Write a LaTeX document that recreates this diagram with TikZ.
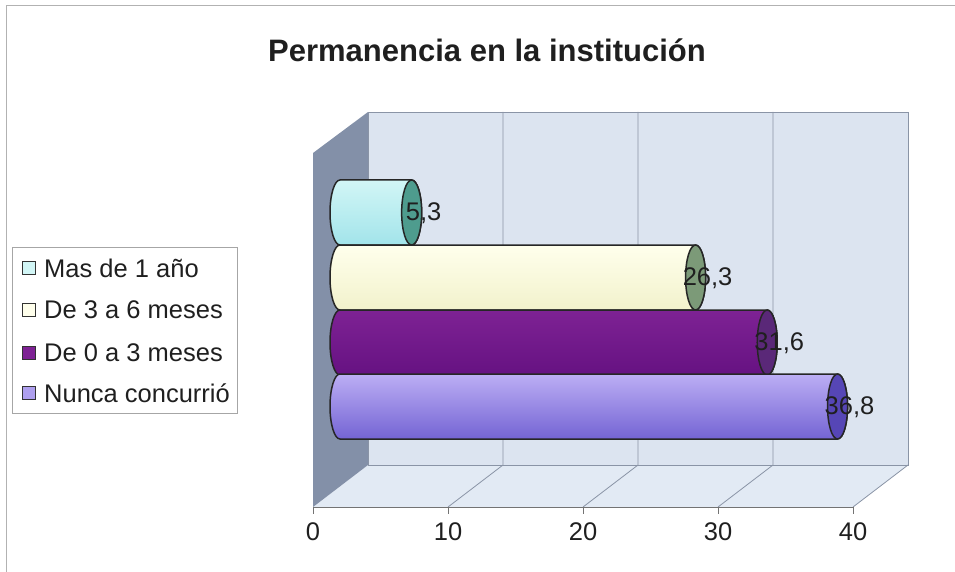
\documentclass[tikz,border=0pt]{standalone}
\usepackage{fontspec}
\setmainfont{Liberation Sans}
\definecolor{wallc}{HTML}{DCE4F0}
\definecolor{floorc}{HTML}{E2EAF4}
\definecolor{sidec}{HTML}{8390A8}
\definecolor{gridc}{HTML}{8A94A6}
\definecolor{cyanA}{HTML}{D2F6F6}
\definecolor{cyanB}{HTML}{A2E4EA}
\definecolor{cyanC}{HTML}{4E9C8E}
\definecolor{yelA}{HTML}{FFFFEC}
\definecolor{yelB}{HTML}{F2F2CC}
\definecolor{yelC}{HTML}{7C9A78}
\definecolor{purA}{HTML}{7E2294}
\definecolor{purB}{HTML}{661282}
\definecolor{purC}{HTML}{5A2878}
\definecolor{lavA}{HTML}{BCAEF4}
\definecolor{lavB}{HTML}{7464D4}
\definecolor{lavC}{HTML}{5646B6}
\begin{document}
\begin{tikzpicture}[x=1pt,y=-1pt,
    lbl/.style={font=\fontsize{25.5}{30}\selectfont, text=black!88, inner sep=0pt},
    grid/.style={draw=gridc, line width=.8pt},
    barline/.style={draw=black!85, line width=1.5pt}]
        \useasboundingbox (0,0) rectangle (955,572);
        \draw[gray!60, line width=1pt] (6,572)--(6,6)--(955,6);
        \node[font=\bfseries\fontsize{31}{36}\selectfont, text=black!88] (title) at (487,50) {Permanencia en la institución};
        \fill[wallc] (368,112) rectangle (908,465);
        \fill[floorc] (313,507)--(853,507)--(908,465)--(368,465)--cycle;
        \fill[sidec] (313,153)--(368,112)--(368,465)--(313,507)--cycle;
        \foreach \k in {1,2,3}
            \draw[grid] ({368+135*\k},112)--({368+135*\k},465)--({313+135*\k},507);
        \draw[grid] (368,465)--(368,112)--(908,112)--(908,465)--(368,465);
        \draw[grid] (908,465)--(853,507);
        \draw[gray!90!black, line width=.9pt] (313,507)--(853,507);
        \foreach \k/\v in {0/0,1/10,2/20,3/30,4/40}
            \draw[gray!90!black, line width=.9pt] ({313+135*\k},507)--({313+135*\k},514) node[lbl, anchor=north, yshift=-8pt] (x\k) {\v};
        \foreach \i/\v/\t/\lab/\ca/\cb/\cc in {1/5.3/180/{5,3}/cyanA/cyanB/cyanC, 2/26.3/245/{26,3}/yelA/yelB/yelC, 3/31.6/310/{31,6}/purA/purB/purC, 4/36.8/374/{36,8}/lavA/lavB/lavC}{
            \path[barline, top color=\ca, bottom color=\cb] (340,\t) -- ({340+13.52*\v},\t) arc[start angle=-90, end angle=90, x radius=10, y radius=32.5] -- (340,\t+65) arc[start angle=90, end angle=270, x radius=10, y radius=32.5] -- cycle;
            \draw[barline, fill=\cc] ({340+13.52*\v},\t+32.5) ellipse[x radius=10, y radius=32.5];
            \node[lbl] (v\i) at ({352+13.52*\v},\t+33) {\lab};
        }
        \draw[gray!70, line width=.9pt] (12,247) rectangle (237,413);
        \foreach \i/\y/\c/\lab in {1/268/cyanA/{Mas de 1 año}, 2/310/yelA/{De 3 a 6 meses}, 3/353/purA/{De 0 a 3 meses}, 4/393/lavA!80!lavB/{Nunca concurrió}}{
            \node[draw=black!80, line width=1pt, fill=\c, minimum size=13pt, inner sep=0pt] (s\i) at (29,\y) {};
            \node[lbl, anchor=west] (l\i) at (44,\y) {\lab};
        }
    \end{tikzpicture}
\end{document}
